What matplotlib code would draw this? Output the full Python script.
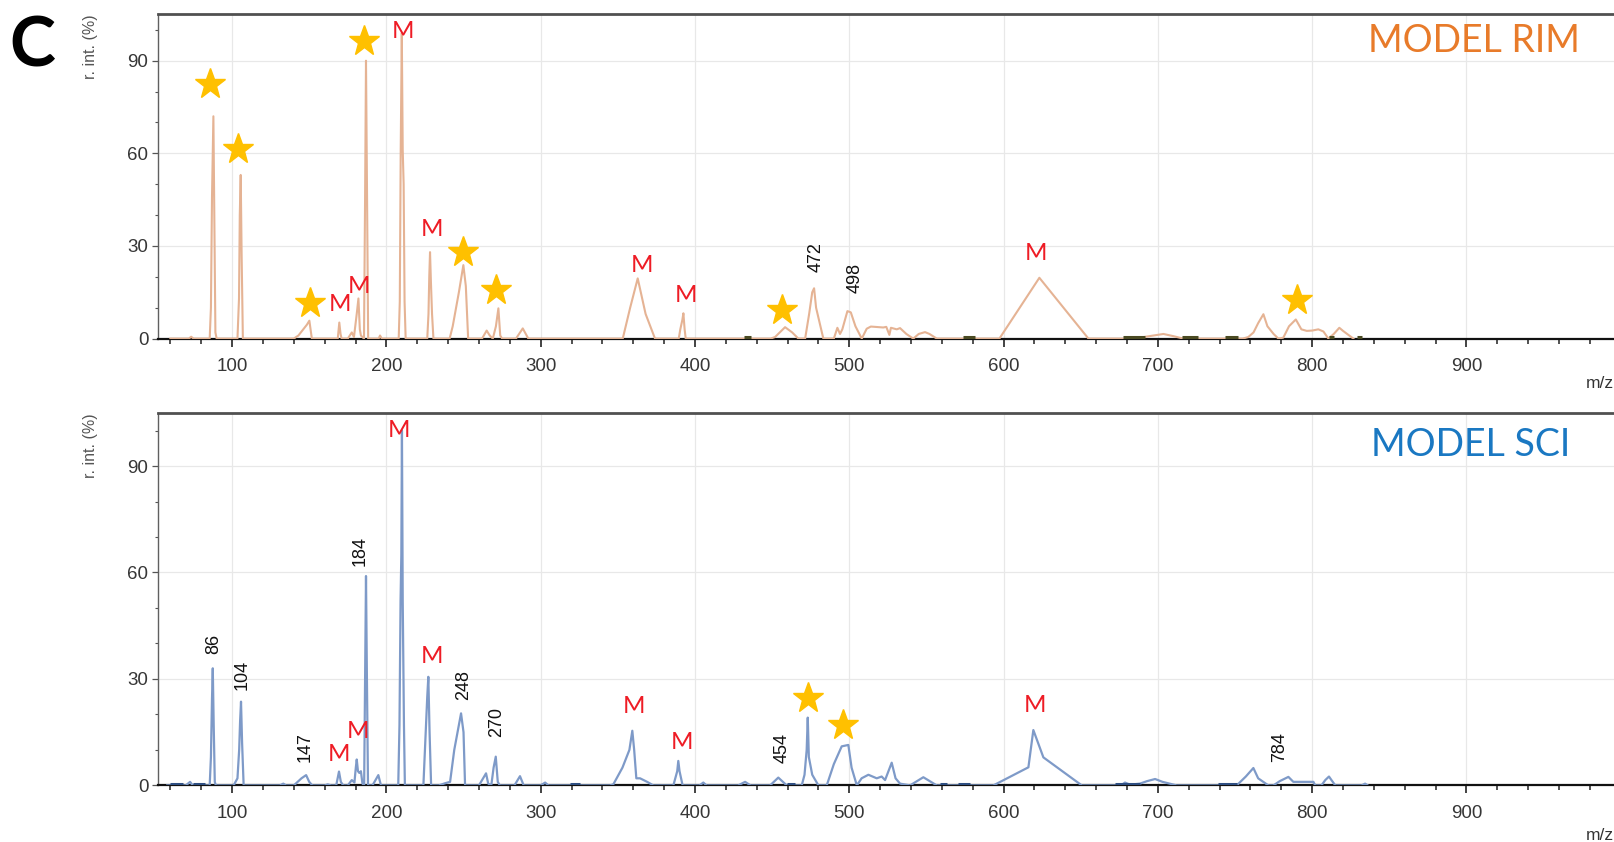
import matplotlib.pyplot as plt
from matplotlib.ticker import MultipleLocator, FixedLocator

W, H = 1614, 842

# --- spectrum data (m/z, relative intensity %) ---
rim_mz = [60, 72, 73.5, 75, 85.5, 86.3, 87.0, 87.9, 88.5, 89.2, 90,
          103.5, 104.5, 105.0, 105.6, 106.2, 107,
          140, 143, 148.5, 150.1, 151.7,
          168.5, 169.5, 170.3, 171,
          175, 177.6, 179, 180.8, 181.9, 182.8, 183.5,
          185.5, 186.2, 186.8, 187.5, 188.2,
          195, 195.9, 197,
          208, 208.7, 209.3, 210, 210.6, 211.2, 211.8, 212.5,
          226.5, 227.3, 227.8, 228.3, 228.9, 229.6, 230.5,
          241, 243, 247, 249.9, 251.5, 253,
          262, 265, 267, 269, 271, 272.6, 273.8, 275,
          284, 288.4, 292,
          353.2, 358, 362.9, 368, 374.1,
          389.5, 390.5, 391.8, 392.5, 393.3, 394,
          449, 451.9, 458.4, 463, 467,
          471.4, 474, 476, 477.2, 478.5, 483.2,
          490, 492.3, 494, 495.5, 498.8, 501, 504, 508.1,
          511.3, 514, 522, 524, 526, 527, 530.8, 532.9, 537, 541.5, 545, 549.1, 552, 556.7,
          597.3, 623.2, 655,
          685, 692, 703.6, 710, 716.5,
          755, 758.6, 762, 765, 768.4, 771, 775, 778.1, 781.3, 785, 789.4, 793,
          796.5, 800, 804, 807.3, 810.5, 814, 817.6, 820, 826.7]
rim_int = [0, 0, 0.6, 0, 0, 10, 46, 72, 38, 2, 0,
           0, 13, 40, 53, 27, 0,
           0, 1, 4.5, 5.8, 0,
           0, 5.2, 1.5, 0,
           0, 2, 0.5, 8, 13, 3, 1,
           0, 45, 90, 45, 0,
           0, 1, 0,
           0, 12, 61, 99, 61, 50, 12, 0,
           0, 8, 20, 28, 18, 8, 0,
           0, 4, 15, 23.8, 17, 0,
           0, 2.6, 1, 0, 4, 9.8, 1, 0,
           0, 3.3, 0,
           0, 10, 19.5, 8, 0,
           0, 3, 6, 8.2, 3, 0,
           0, 0.5, 3.7, 2, 0,
           0, 8, 15, 16.3, 10, 0,
           0, 3.5, 1.5, 3, 8.9, 8.5, 4, 0,
           3.2, 3.9, 3.6, 3.8, 1.2, 3.5, 3, 3.4, 1.5, 0, 1.5, 2.1, 1.5, 0,
           0, 19.7, 0,
           0, 0.6, 1.5, 0.8, 0,
           0, 0.5, 2, 5, 7.9, 4, 1.5, 0, 0.3, 4, 6.2, 3,
           2.5, 2.6, 3, 2.3, 0, 1.5, 3.5, 2.5, 0]

sci_mz = [58, 70, 72.8, 74.5,
          85.5, 86.3, 87.0, 87.5, 88.1, 88.8, 89.5,
          101, 103.5, 104.6, 105.2, 105.8, 106.5, 107.5,
          131, 133.2, 135,
          140, 145, 148, 150, 152,
          160, 162, 164,
          167.5, 169.3, 170.5, 172,
          175, 177.6, 179.3, 180.2, 180.8, 181.6, 182.5, 183.5, 184.5,
          185.6, 186.2, 186.8, 187.4, 188.1,
          191, 194.8, 196.5,
          207.7, 208.5, 209.2, 209.7, 210.1, 210.6, 211.4, 212,
          224, 225.5, 226.5, 227.2, 228, 229,
          234, 238, 241.3, 244, 248.4, 250, 251,
          260, 264.6, 266, 268, 269.5, 270.9, 272.2, 273.5,
          283, 286.6, 289,
          300, 302.9, 305,
          345, 347.1, 353, 357.5, 359.4, 360.6, 362, 364.4, 369, 373,
          386, 388.5, 389.2, 390, 392,
          403, 405.4, 407.5,
          428, 432.5, 436,
          448.7, 454, 459.5,
          469.2, 471, 472.4, 473.1, 473.8, 476, 480,
          485.4, 490, 495.1, 499.4, 501.5, 504.9,
          508, 512.4, 517.8, 521, 523.2, 527.5, 530, 532.9, 539.4,
          548, 556.7,
          593.4, 616.1, 619.3, 625.8, 650.7,
          676, 678.7, 682, 688.4, 693, 698.2, 703, 712.2,
          751.1, 757, 761.9, 765, 771.6, 774.9, 779, 784.6, 787.8, 800.8, 802,
          806, 808.5, 810.9, 812.5, 815,
          832, 834.3, 836]
sci_int = [0, 0, 1, 0,
           0, 8, 24.5, 33, 17, 1, 0,
           0, 2, 10, 18, 23.6, 12, 0,
           0, 0.5, 0,
           0, 2, 2.9, 1, 0,
           0, 0.3, 0,
           0, 3.9, 1, 0,
           0, 1.5, 0.8, 5, 7.3, 4, 3.5, 4, 0.5,
           0, 30, 59, 30, 0,
           0, 2.9, 0,
           0, 17, 52, 65, 100, 52, 17, 0,
           0, 15, 25, 30.6, 15, 0,
           0, 0.6, 1, 10, 20.3, 15, 0,
           0, 3.4, 0.5, 0, 5, 8.1, 1, 0,
           0, 2.6, 0,
           0, 0.8, 0,
           0, 0.3, 5, 10, 15.4, 10, 2, 2, 1, 0,
           0, 4, 6.9, 4, 0,
           0, 0.8, 0,
           0, 1, 0,
           0, 2.2, 0,
           0, 3, 10, 19.1, 8, 3, 0,
           0, 6, 11, 11.4, 5, 0,
           2, 3, 2, 2.5, 1.5, 6.4, 2, 0.5, 0,
           2.3, 0,
           0, 5.1, 15.6, 7.9, 0,
           0, 0.8, 0.2, 0.5, 1.2, 1.8, 1, 0,
           0, 2.5, 4.9, 2, 0, 0, 1.2, 2.4, 1, 1, 0,
           0, 1.5, 2.5, 1.5, 0,
           0, 0.5, 0]

# dark baseline fragments (start, end m/z)
rim_noise_start = [432, 574, 677.6, 715.5, 743.5, 811, 829]
rim_noise_end = [436, 581.5, 691.7, 726.2, 752.2, 814, 832]
sci_noise_start = [59.8, 74.5, 319, 459.5, 558.8, 570.7, 672.3, 739.2]
sci_noise_end = [68.4, 82.5, 325.5, 464.9, 563.2, 578.3, 688.4, 751.1]

# annotations
rim_star_mz = [85.7, 103.8, 150.5, 185.8, 249.9, 271.1, 456.6, 790.3]
rim_star_int = [82.3, 61.3, 11.4, 96.3, 28.1, 15.7, 9.3, 12.5]
rim_m_mz = [211.1, 170.2, 182.5, 229.4, 365.5, 394.2, 621.1]
rim_m_int = [99.6, 11.1, 17.0, 35.2, 23.8, 14.1, 27.6]
rim_lab_text = ["472", "498"]
rim_lab_mz = [478.5, 503.8]
rim_lab_int = [26.5, 19.5]

sci_star_mz = [473.5, 496.2]
sci_star_int = [24.5, 17.0]
sci_m_mz = [208.5, 229.4, 181.9, 169.5, 360.7, 391.4, 620.4]
sci_m_int = [100.1, 36.3, 15.3, 8.6, 22.2, 12.0, 22.4]
sci_lab_text = ["86", "104", "147", "184", "248", "270", "454", "784"]
sci_lab_mz = [87.9, 106.3, 147.3, 183.1, 249.9, 271.5, 456.3, 779.2]
sci_lab_int = [40.0, 31.1, 10.9, 66.1, 28.3, 18.0, 10.4, 10.9]

x_ticks = [100, 200, 300, 400, 500, 600, 700, 800, 900]

XLIM = (52, 1010)
PX_PER_MZ = 1.543


def axes_rect(top_px, bottom_px):
    left_px = 158
    width_px = (XLIM[1] - XLIM[0]) * PX_PER_MZ
    return [left_px / W, 1 - bottom_px / H, width_px / W, (bottom_px - top_px) / H]


fig = plt.figure(figsize=(W / 100, H / 100), dpi=100)
fig.patch.set_facecolor("white")

ax_top = fig.add_axes(axes_rect(14.4, 338.6))
ax_bot = fig.add_axes(axes_rect(412.8, 785.4))

tick_font = "Liberation Sans"
for ax in (ax_top, ax_bot):
    ax.set_xlim(*XLIM)
    ax.set_ylim(0, 105)
    ax.xaxis.set_major_locator(FixedLocator(x_ticks))
    ax.xaxis.set_minor_locator(MultipleLocator(20))
    ax.yaxis.set_major_locator(MultipleLocator(30))
    ax.yaxis.set_minor_locator(MultipleLocator(10))
    ax.grid(True, which="major", color="#e8e8e8", lw=0.9, zorder=0)
    ax.set_axisbelow(True)
    ax.tick_params(axis="x", which="major", direction="out", length=6, width=1.2,
                   pad=8, labelsize=13.5, labelcolor="#363636", color="#222222")
    ax.tick_params(axis="x", which="minor", direction="out", length=3.5, width=1.1,
                   color="#222222")
    ax.tick_params(axis="y", which="major", direction="out", length=4, width=0.9,
                   pad=3, labelsize=13.5, labelcolor="#363636", color="#555555")
    ax.tick_params(axis="y", which="minor", direction="out", length=2.5, width=0.8,
                   color="#555555")
    for lab in ax.get_xticklabels() + ax.get_yticklabels():
        lab.set_fontfamily(tick_font)
    ax.spines["bottom"].set_color("#111111")
    ax.spines["bottom"].set_linewidth(1.6)
    ax.spines["top"].set_color("#505050")
    ax.spines["top"].set_linewidth(2.0)
    ax.spines["left"].set_color("#606060")
    ax.spines["left"].set_linewidth(1.0)
    ax.spines["right"].set_visible(False)

# spectra
ax_top.plot(rim_mz, rim_int, color="#E5B394", lw=1.5, zorder=3)
ax_top.hlines([0.4] * len(rim_noise_start), rim_noise_start, rim_noise_end,
              color="#4a4a22", lw=2.2, zorder=4)
ax_bot.plot(sci_mz, sci_int, color="#7E9AC8", lw=1.6, zorder=3)
ax_bot.hlines([0.4] * len(sci_noise_start), sci_noise_start, sci_noise_end,
              color="#2f4f82", lw=2.2, zorder=4)

star_color = "#FFC000"
m_color = "#EE1C25"


def annotate(ax, star_mz, star_int, m_mz, m_int, lab_text, lab_mz, lab_int):
    ax.plot(star_mz, star_int, ls="none", marker="*", ms=23, color=star_color,
            mec=star_color, zorder=5, clip_on=False)
    for x, y in zip(m_mz, m_int):
        ax.text(x, y, "M", color=m_color, fontsize=17.5, family="Lato",
                ha="center", va="center", zorder=6, clip_on=False)
    for t, x, y in zip(lab_text, lab_mz, lab_int):
        ax.text(x, y, t, color="#111111", fontsize=13, family=tick_font,
                rotation=90, ha="center", va="center", zorder=6)


annotate(ax_top, rim_star_mz, rim_star_int, rim_m_mz, rim_m_int,
         rim_lab_text, rim_lab_mz, rim_lab_int)
annotate(ax_bot, sci_star_mz, sci_star_int, sci_m_mz, sci_m_int,
         sci_lab_text, sci_lab_mz, sci_lab_int)

# panel titles and labels (positions in pixels)
fig.text(1580 / W, 1 - 41.5 / H, "MODEL RIM", color="#E87B2A", fontsize=27,
         family="Lato", ha="right", va="center")
fig.text(1570 / W, 1 - 445 / H, "MODEL SCI", color="#1A78C2", fontsize=27,
         family="Lato", ha="right", va="center")
fig.text(32 / W, 1 - 47 / H, "C", color="black", fontsize=50, family="Lato",
         weight="bold", ha="center", va="center")
for top_px in (14, 413):
    fig.text(91 / W, 1 - top_px / H, "r. int. (%)", color="#555555", fontsize=11.5,
             family=tick_font, rotation=90, ha="center", va="top")
for y_px in (383, 835):
    fig.text(1586 / W, 1 - y_px / H, "m/z", color="#333333", fontsize=12.5,
             family=tick_font, ha="left", va="center")

fig.savefig("out.png", dpi=100)
